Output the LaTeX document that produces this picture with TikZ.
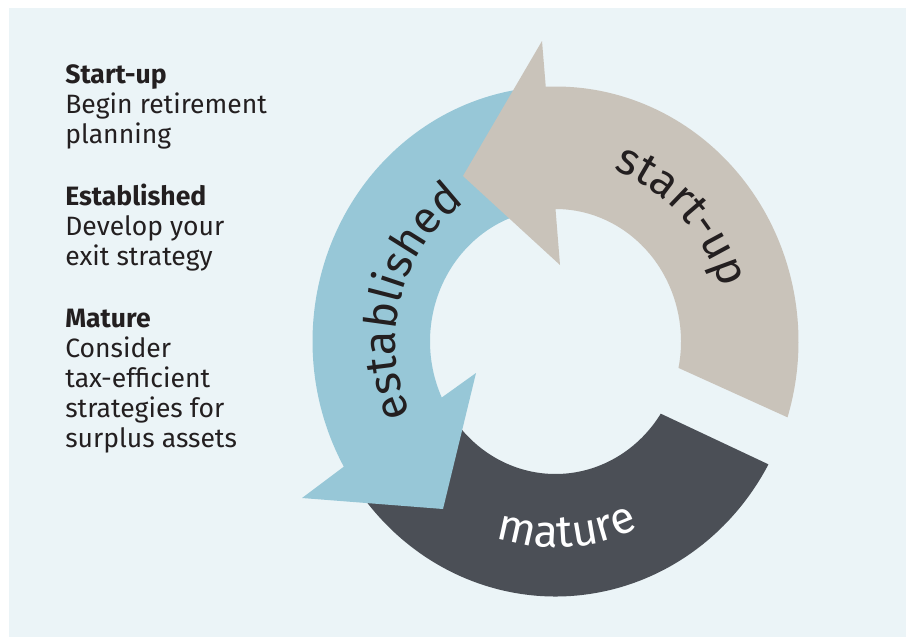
\documentclass[tikz,border=0pt]{standalone}
\usepackage{fontspec}
\setmainfont{Fira Sans}
\usetikzlibrary{calc,decorations.text}
\definecolor{panel}{HTML}{EBF4F7}
\definecolor{sky}{HTML}{97C7D7}
\definecolor{sand}{HTML}{C9C3BA}
\definecolor{slate}{HTML}{4B4F56}
\definecolor{ink}{HTML}{231F20}
\newcommand{\arcfont}{\fontsize{25.5}{30}\selectfont}
\begin{document}
\begin{tikzpicture}[x=0.02cm,y=0.02cm,
    legend/.style={anchor=base west,align=left,inner sep=0pt,text=ink,
      font=\fontsize{15.1}{17.07}\selectfont},
    ringtext/.style={decorate,decoration={text along path,text align=center,text color=#1}}]
  \useasboundingbox (0,0) rectangle (908,637);
  \fill[panel] (9,0) rectangle (906,629);
  \coordinate (c) at (555.5,295.5);
  \fill[slate] ($(c)+(218:243 and 255)$)
    arc[start angle=218,end angle=331.2,x radius=243,y radius=255]
    -- ($(c)+(327:125.5 and 132.5)$)
    arc[start angle=327,end angle=218,x radius=125.5,y radius=132.5] -- cycle;
  \fill[sky] ($(c)+(95:243 and 255)$)
    arc[start angle=95,end angle=209.4,x radius=243,y radius=255]
    -- (302,139) -- (443,128) -- (476,264)
    -- ($(c)+(205:125.5 and 132.5)$)
    arc[start angle=205,end angle=95,x radius=125.5,y radius=132.5] -- cycle;
  \fill[sand] ($(c)+(-17.3:243 and 255)$)
    arc[start angle=-17.3,end angle=92.3,x radius=243,y radius=255]
    -- (542,596) -- (463,461) -- (560,372)
    -- ($(c)+(90:125.5 and 132.5)$)
    arc[start angle=90,end angle=-11.5,x radius=125.5,y radius=132.5] -- cycle;
  \path[ringtext=ink,decoration={text={|\arcfont|start-up}}]
    ($(c)+(84:173 and 182)$) arc[start angle=84,end angle=4,x radius=173,y radius=182];
  \path[ringtext=ink,decoration={text={|\arcfont|established}}]
    ($(c)+(219.8:160 and 168)$) arc[start angle=219.8,end angle=109.8,x radius=160,y radius=168];
  \path[ringtext=white,decoration={text={|\arcfont|mature}}]
    ($(c)+(223.7:196 and 206)$) arc[start angle=223.7,end angle=323.7,x radius=196,y radius=206];
  \node[legend] (startup) at (65,494) {\textbf{Start-up}\\Begin retirement\\planning};
  \node[legend] (established) at (65,372) {\textbf{Established}\\Develop your\\exit strategy};
  \node[legend] (mature) at (65,190) {\textbf{Mature}\\Consider\\tax-efficient\\strategies for\\surplus assets};
\end{tikzpicture}
\end{document}
